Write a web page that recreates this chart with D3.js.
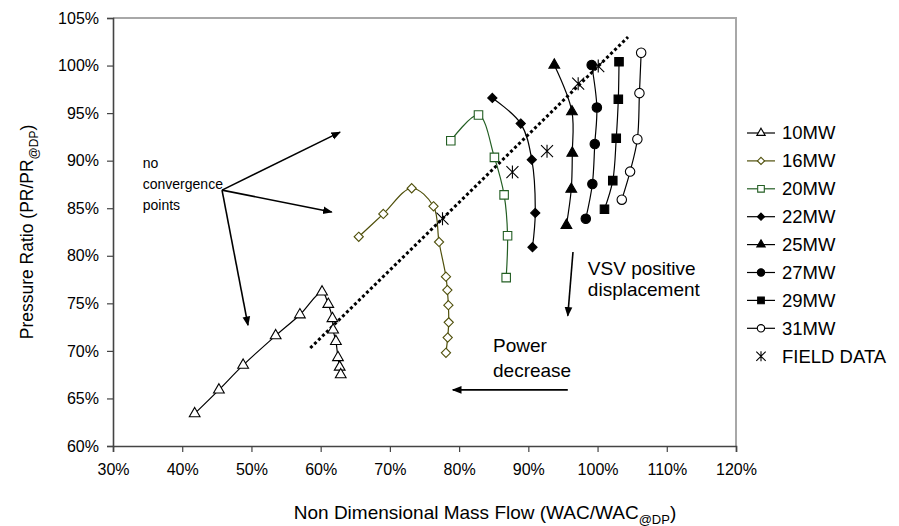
<!DOCTYPE html>
<html>
<head>
<meta charset="utf-8">
<title>Compressor map</title>
<script src="https://cdnjs.cloudflare.com/ajax/libs/d3/7.8.5/d3.min.js"></script>
<style>
  body { margin: 0; background: #fff; }
  text { font-family: "Liberation Sans", Arial, sans-serif; fill: #000; }
</style>
</head>
<body>
<script>
// operating lines, [mass flow %, pressure ratio %]
var mw10 = [[41.8,63.4],[45.3,65.9],[48.8,68.5],[53.5,71.6],[57.0,73.8],[60.2,76.2],
            [61.1,74.9],[61.7,73.4],[61.8,72.2],[62.2,71.0],[62.5,69.3],[62.75,68.3],[62.9,67.5]];
var mw16 = [[65.5,82.0],[69.05,84.4],[73.15,87.1],[76.3,85.2],[77.1,81.45],[78.1,77.8],
            [78.3,76.4],[78.45,74.8],[78.5,73.0],[78.35,71.4],[78.1,69.8]];
var mw20 = [[78.8,92.1],[82.8,94.8],[85.1,90.35],[86.5,86.4],[87.0,82.1],[86.8,77.7]];
var mw22 = [[84.8,96.6],[88.9,93.9],[90.5,90.1],[91.0,84.5],[90.6,80.9]];
var mw25 = [[93.75,100.06],[96.3,95.15],[96.35,90.8],[96.2,87.0],[95.5,83.2]];
var mw27 = [[99.15,100.06],[99.9,95.6],[99.6,91.75],[99.25,87.55],[98.3,83.9]];
var mw29 = [[103.1,100.4],[103.0,96.45],[102.7,92.35],[102.2,87.9],[101.0,84.9]];
var mw31 = [[106.3,101.35],[106.05,97.1],[105.75,92.25],[104.7,88.85],[103.5,85.9]];
var fieldData = [[77.6,83.9],[87.7,88.8],[92.7,91.0],[97.2,98.1],[100.1,99.95]];

// dotted trend through field data
var trendLine = [[58.5,70.3],[104.4,103.0]];

var xTicks = [30,40,50,60,70,80,90,100,110,120];
var yTicks = [60,65,70,75,80,85,90,95,100,105];

var width = 899, height = 526;
var plotLeft = 113, plotRight = 736, plotTop = 18, plotBottom = 446;

var svg = d3.select('body').append('svg')
  .attr('width', width)
  .attr('height', height);

var x = d3.scaleLinear().domain([30, 120]).range([plotLeft, plotRight]);
var y = d3.scaleLinear().domain([60, 105]).range([plotBottom, plotTop]);

// arrowhead
svg.append('defs').append('marker')
  .attr('id', 'head')
  .attr('viewBox', '0 0 10 10')
  .attr('refX', 9).attr('refY', 5)
  .attr('markerWidth', 6).attr('markerHeight', 6)
  .attr('markerUnits', 'strokeWidth')
  .attr('orient', 'auto')
  .append('path')
  .attr('d', 'M0,1 L10,5 L0,9 z')
  .attr('fill', '#000');

// frame: grey top/right, dark axes
svg.append('path')
  .attr('d', 'M' + plotLeft + ',' + plotTop + 'H' + plotRight + 'V' + plotBottom)
  .attr('fill', 'none').attr('stroke', '#a8a8a8').attr('stroke-width', 2);

var xAxis = svg.append('g')
  .attr('transform', 'translate(0,' + plotBottom + ')')
  .call(d3.axisBottom(x).tickValues(xTicks).tickSize(6).tickPadding(12)
    .tickFormat(function(d) { return d + '%'; }));
var yAxis = svg.append('g')
  .attr('transform', 'translate(' + plotLeft + ',0)')
  .call(d3.axisLeft(y).tickValues(yTicks).tickSize(6).tickPadding(8)
    .tickFormat(function(d) { return d + '%'; }));

[xAxis, yAxis].forEach(function(a) {
  a.select('.domain').attr('stroke', '#444').attr('stroke-width', 1.6);
  a.selectAll('.tick line').attr('stroke', '#444').attr('stroke-width', 1.2);
  a.selectAll('.tick text').attr('font-size', 16).attr('font-family', '"Liberation Sans", Arial, sans-serif');
});

// axis titles
var xt = svg.append('text')
  .attr('x', 485).attr('y', 519)
  .attr('text-anchor', 'middle').attr('font-size', 19);
xt.append('tspan').text('Non Dimensional Mass Flow (WAC/WAC');
xt.append('tspan').attr('dy', 5).attr('font-size', 13).text('@DP');
xt.append('tspan').attr('dy', -5).text(')');

var yt = svg.append('text')
  .attr('transform', 'translate(33,' + ((plotTop + plotBottom) / 2) + ') rotate(-90)')
  .attr('text-anchor', 'middle').attr('font-size', 17.5);
yt.append('tspan').text('Pressure Ratio (PR/PR');
yt.append('tspan').attr('dy', 5).attr('font-size', 12).text('@DP');
yt.append('tspan').attr('dy', -5).text(')');

// marker shapes, k scales them down for the legend
function markerPath(kind, k) {
  k = k || 1;
  if (kind === 'triangle') return d3.symbol().type(d3.symbolTriangle).size(50 * k * k)();
  if (kind === 'square') return d3.symbol().type(d3.symbolSquare).size(72 * k * k)();
  if (kind === 'circle') return d3.symbol().type(d3.symbolCircle).size(70 * k * k)();
  if (kind === 'diamond') {
    var r = 4.6 * k;
    return 'M0,' + (-r) + 'L' + r + ',0L0,' + r + 'L' + (-r) + ',0Z';
  }
  if (kind === 'star') {
    var a = 6.5 * k, b = 6 * k;
    return 'M0,' + (-a) + 'V' + a + 'M' + (-b) + ',' + (-b) + 'L' + b + ',' + b +
           'M' + (-b) + ',' + b + 'L' + b + ',' + (-b);
  }
  return '';
}

var series = [
  { name: '10MW', data: mw10, color: '#000', marker: 'triangle', fill: '#fff' },
  { name: '16MW', data: mw16, color: '#4f4f0a', marker: 'diamond', fill: '#fff' },
  { name: '20MW', data: mw20, color: '#235e23', marker: 'square', fill: '#fff' },
  { name: '22MW', data: mw22, color: '#000', marker: 'diamond', fill: '#000' },
  { name: '25MW', data: mw25, color: '#000', marker: 'triangle', fill: '#000' },
  { name: '27MW', data: mw27, color: '#000', marker: 'circle', fill: '#000' },
  { name: '29MW', data: mw29, color: '#000', marker: 'square', fill: '#000' },
  { name: '31MW', data: mw31, color: '#000', marker: 'circle', fill: '#fff' }
];

var line = d3.line()
  .x(function(d) { return x(d[0]); })
  .y(function(d) { return y(d[1]); })
  .curve(d3.curveCatmullRom.alpha(0.5));

// trend line (dots)
svg.append('path')
  .attr('d', d3.line().x(function(d) { return x(d[0]); }).y(function(d) { return y(d[1]); })(trendLine))
  .attr('fill', 'none').attr('stroke', '#000')
  .attr('stroke-width', 3).attr('stroke-dasharray', '3,2.6');

series.forEach(function(s) {
  var g = svg.append('g');
  g.append('path')
    .attr('d', line(s.data))
    .attr('fill', 'none').attr('stroke', s.color).attr('stroke-width', 1.2);
  g.selectAll('path.pt')
    .data(s.data)
    .enter().append('path')
    .attr('class', 'pt')
    .attr('transform', function(d) { return 'translate(' + x(d[0]) + ',' + y(d[1]) + ')'; })
    .attr('d', markerPath(s.marker))
    .attr('fill', s.fill).attr('stroke', s.color).attr('stroke-width', 1.1);
});

svg.append('g').selectAll('path')
  .data(fieldData)
  .enter().append('path')
  .attr('transform', function(d) { return 'translate(' + x(d[0]) + ',' + y(d[1]) + ')'; })
  .attr('d', markerPath('star'))
  .attr('fill', 'none').attr('stroke', '#000').attr('stroke-width', 1.1);

// annotations
var arrows = [
  [[45.75,86.9],[62.8,93.0]],
  [[45.75,86.9],[61.6,84.6]],
  [[45.75,86.9],[49.5,72.7]],
  [[96.45,80.4],[95.7,73.7]],
  [[95.7,65.9],[79.1,65.9]]
];
svg.append('g').selectAll('line')
  .data(arrows)
  .enter().append('line')
  .attr('x1', function(d) { return x(d[0][0]); })
  .attr('y1', function(d) { return y(d[0][1]); })
  .attr('x2', function(d) { return x(d[1][0]); })
  .attr('y2', function(d) { return y(d[1][1]); })
  .attr('stroke', '#000').attr('stroke-width', 1.6)
  .attr('marker-end', 'url(#head)');

var notes = [
  { text: 'no', at: [34.3, 89.75], size: 14 },
  { text: 'convergence', at: [34.3, 87.5], size: 14 },
  { text: 'points', at: [34.3, 85.3], size: 14 },
  { text: 'VSV positive', at: [98.6, 78.64], size: 19 },
  { text: 'displacement', at: [98.6, 76.5], size: 19 },
  { text: 'Power', at: [84.9, 70.6], size: 19 },
  { text: 'decrease', at: [84.9, 67.96], size: 19 }
];
svg.append('g').selectAll('text')
  .data(notes)
  .enter().append('text')
  .attr('x', function(d) { return x(d.at[0]); })
  .attr('y', function(d) { return y(d.at[1]); })
  .attr('dy', '0.35em')
  .attr('font-size', function(d) { return d.size; })
  .text(function(d) { return d.text; });

// legend
var legendItems = series.concat([{ name: 'FIELD DATA', color: '#000', marker: 'star', fill: 'none', noLine: true }]);
var legend = svg.append('g').attr('transform', 'translate(747,133)');
var item = legend.selectAll('g')
  .data(legendItems)
  .enter().append('g')
  .attr('transform', function(d, i) { return 'translate(0,' + (i * 27.9) + ')'; });
item.filter(function(d) { return !d.noLine; }).append('line')
  .attr('x1', 0).attr('x2', 28)
  .attr('stroke', function(d) { return d.color; }).attr('stroke-width', 1.2);
item.append('path')
  .attr('transform', 'translate(14,0)')
  .attr('d', function(d) { return markerPath(d.marker, 0.78); })
  .attr('fill', function(d) { return d.fill; })
  .attr('stroke', function(d) { return d.color; }).attr('stroke-width', 1.1);
item.append('text')
  .attr('x', 35).attr('dy', '0.35em')
  .attr('font-size', 18.5)
  .text(function(d) { return d.name; });
</script>
</body>
</html>
